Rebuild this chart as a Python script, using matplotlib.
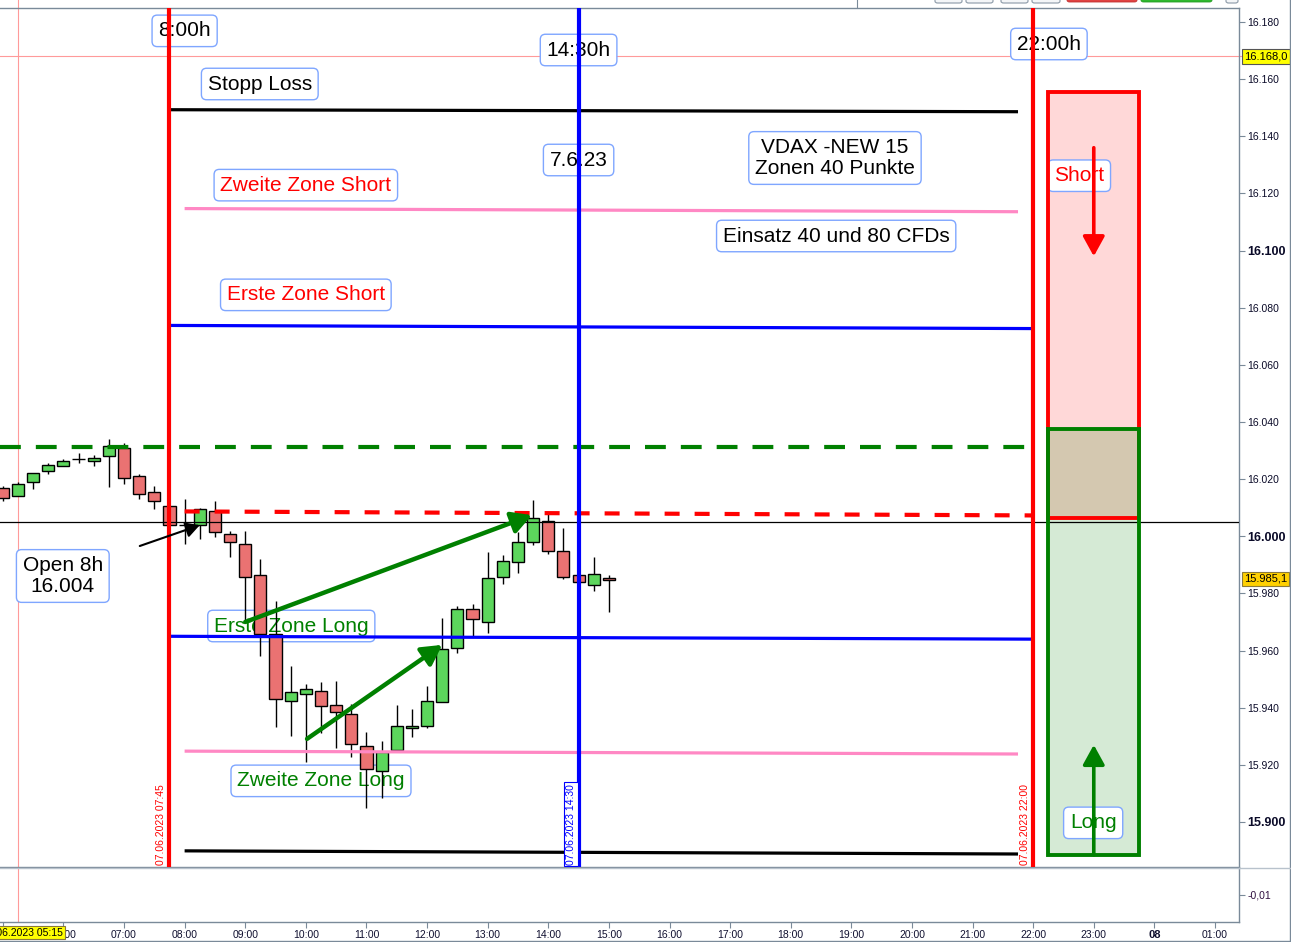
import matplotlib
matplotlib.use("Agg")
import matplotlib.pyplot as plt
from matplotlib.patches import Rectangle, FancyBboxPatch
from matplotlib.lines import Line2D
from matplotlib.transforms import blended_transform_factory

plt.rcParams['font.family'] = ['Liberation Sans', 'DejaVu Sans']

# ---------------- data (15-min candles, 07.06.2023) ----------------
candle_times = ["05:00", "05:15", "05:30", "05:45", "06:00", "06:15", "06:30", "06:45",
                "07:00", "07:15", "07:30", "07:45", "08:00", "08:15", "08:30", "08:45",
                "09:00", "09:15", "09:30", "09:45", "10:00", "10:15", "10:30", "10:45",
                "11:00", "11:15", "11:30", "11:45", "12:00", "12:15", "12:30", "12:45",
                "13:00", "13:15", "13:30", "13:45", "14:00", "14:15", "14:30", "14:45",
                "15:00"]
opens = [16016.8, 16014.0, 16018.9, 16022.7, 16024.5, 16026.9, 16026.2, 16028.0,
         16030.8, 16021.0, 16015.4, 16010.5, 16003.8, 16003.8, 16008.7, 16000.7,
         15997.2, 15986.4, 15965.7, 15942.3, 15944.8, 15945.8, 15940.9, 15937.8,
         15926.6, 15917.8, 15925.2, 15932.9, 15933.6, 15942.0, 15960.8, 15974.5,
         15969.9, 15985.7, 15990.9, 15997.9, 16005.2, 15994.8, 15986.4, 15982.9,
         15985.3]
highs = [16017.5, 16018.9, 16022.0, 16025.5, 16026.9, 16029.0, 16028.3, 16033.9,
         16032.5, 16021.7, 16017.5, 16010.5, 16012.9, 16009.8, 16012.2, 16001.7,
         16001.7, 15992.0, 15977.3, 15954.5, 15948.3, 15948.9, 15949.3, 15941.3,
         15931.5, 15928.3, 15940.9, 15939.5, 15947.6, 15971.3, 15975.5, 15976.2,
         15994.4, 15993.4, 16001.4, 16012.6, 16008.0, 16002.8, 15986.4, 15992.7,
         15986.4]
lows = [16012.5, 16014.0, 16016.4, 16021.7, 16024.5, 16025.5, 16024.5, 16017.1,
        16018.2, 16012.9, 16009.4, 16003.8, 15997.2, 15999.0, 15999.7, 15992.7,
        15969.9, 15958.0, 15933.2, 15930.1, 15921.0, 15931.1, 15925.9, 15922.7,
        15904.9, 15908.4, 15925.2, 15929.7, 15932.9, 15942.0, 15959.1, 15965.0,
        15966.1, 15983.2, 15987.1, 15996.9, 15993.7, 15985.0, 15983.9, 15980.8,
        15973.4]
closes = [16013.3, 16018.2, 16022.0, 16024.8, 16026.2, 16026.9, 16027.3, 16031.5,
          16020.3, 16014.7, 16012.2, 16003.8, 16003.8, 16009.4, 16001.4, 15997.9,
          15985.7, 15965.7, 15943.0, 15945.5, 15946.5, 15940.6, 15938.5, 15927.3,
          15918.5, 15924.5, 15933.6, 15933.6, 15942.3, 15960.5, 15974.5, 15971.0,
          15985.3, 15991.3, 15997.9, 16006.3, 15994.8, 15985.7, 15983.9, 15986.7,
          15984.6]

# drawn zone lines: start/end hour and start/end price
zone_names = ["Stopp Loss oben", "Zweite Zone Short", "Erste Zone Short",
              "Erste Zone Long", "Zweite Zone Long", "Stopp Loss unten"]
zone_t0 = [7.75, 8.0, 7.75, 7.75, 8.0, 8.0]
zone_t1 = [21.75, 21.75, 22.0, 22.0, 21.75, 21.75]
zone_p0 = [16149.3, 16114.7, 16073.8, 15965.0, 15924.8, 15889.9]
zone_p1 = [16148.6, 16113.6, 16072.7, 15964.0, 15923.8, 15888.8]
zone_colors = ["black", "#ff88c4", "#0000ff", "#0000ff", "#ff88c4", "black"]

green_dash_price = 16031.1
red_dash_t = [8.0, 22.0]
red_dash_p = [16008.7, 16007.3]
open_line_price = 16005.0
vline_times = [7.75, 14.5, 22.0]
vline_colors = ["#ff0000", "#0000ff", "#ff0000"]

short_box = (22.25, 23.75, 16006.5, 16155.5)
long_box = (22.25, 23.75, 15888.5, 16037.6)

cross_time = 5.25
cross_price = 16168.0
last_price = 15985.1

price_ticks = [15900, 15920, 15940, 15960, 15980, 16000, 16020, 16040,
               16060, 16080, 16100, 16120, 16140, 16160, 16180]
hour_ticks = list(range(5, 26))
hour_labels = ["", "06:00", "07:00", "08:00", "09:00", "10:00", "11:00",
               "12:00", "13:00", "14:00", "15:00", "16:00", "17:00", "18:00",
               "19:00", "20:00", "21:00", "22:00", "23:00", "08", "01:00"]


def hours(s):
    h, m = s.split(":")
    return int(h) + int(m) / 60.0


W, H = 1291, 942
fig = plt.figure(figsize=(W / 100, H / 100), dpi=100)
ax = fig.add_axes([0, 75 / H, 1239 / W, 859 / H])
axl = fig.add_axes([0, 20 / H, 1239 / W, 54 / H])
XMIN, XMAX = 4.954, 25.396
YMIN, YMAX = 15884.25, 16184.9
SPINE = "#7a8a99"

ax.set_xlim(XMIN, XMAX)
ax.set_ylim(YMIN, YMAX)
axl.set_xlim(XMIN, XMAX)
axl.set_ylim(-0.02, 0.0)

for a in (ax, axl):
    a.spines['left'].set_visible(False)
    for s in ('top', 'right', 'bottom'):
        a.spines[s].set_color(SPINE)
        a.spines[s].set_linewidth(1.0)
axl.spines['top'].set_color("#b8c2cc")

# ---------------- candles ----------------
t = [hours(s) for s in candle_times]
ax.vlines(t, lows, highs, color="black", lw=1.0, zorder=3)
bottoms = [min(o, c) for o, c in zip(opens, closes)]
heights = [abs(c - o) for o, c in zip(opens, closes)]
cols = ["#5cd65c" if c >= o else "#ea7272" for o, c in zip(opens, closes)]
ax.bar(t, heights, bottom=bottoms, width=0.2, color=cols, edgecolor="black",
       linewidth=1.0, zorder=4)

# ---------------- horizontal lines ----------------
for t0, t1, p0, p1, c in zip(zone_t0, zone_t1, zone_p0, zone_p1, zone_colors):
    ax.plot([t0, t1], [p0, p1], color=c, lw=2.3, solid_capstyle='butt', zorder=5)

ax.plot([XMIN, 22.0], [green_dash_price, green_dash_price], color="#008000", lw=3,
        linestyle=(0, (5.0, 3.6)), zorder=5)
ax.plot(red_dash_t, red_dash_p, color="#ff0000", lw=3, linestyle=(0, (3.6, 3.6)), zorder=5)
ax.axhline(open_line_price, color="black", lw=0.9, zorder=5)

for vt, vc in zip(vline_times, vline_colors):
    ax.axvline(vt, color=vc, lw=3, zorder=6)

# crosshair
ax.axhline(cross_price, xmin=0, xmax=1290 / 1239, color="#ff9a9a", lw=0.8,
           clip_on=False, zorder=1)
ax.axvline(cross_time, ymin=0, ymax=867 / 859, color="#ff9a9a", lw=0.8,
           clip_on=False, zorder=1)
axl.axvline(cross_time, color="#ff9a9a", lw=0.8, zorder=1)

# ---------------- zone boxes ----------------
sx0, sx1, sp0, sp1 = short_box
lx0, lx1, lp0, lp1 = long_box
ax.add_patch(Rectangle((sx0, sp0), sx1 - sx0, sp1 - sp0, fc="#ffd8d8", ec="none", zorder=2))
ax.add_patch(Rectangle((lx0, lp0), lx1 - lx0, lp1 - lp0, fc="#d5ead5", ec="none", zorder=2))
ax.add_patch(Rectangle((lx0, sp0), lx1 - lx0, lp1 - sp0, fc="#d4c8b0", ec="none", zorder=2))
ax.add_patch(Rectangle((sx0, sp0), sx1 - sx0, sp1 - sp0, fc="none", ec="#ff0000", lw=2.8, zorder=5))
ax.add_patch(Rectangle((lx0, lp0), lx1 - lx0, lp1 - lp0, fc="none", ec="#008000", lw=2.8, zorder=5))

# ---------------- arrows ----------------
arrow_from = [(23.0, 16136.0), (23.0, 15888.5), (9.0, 15970.0), (10.02, 15929.1), (7.26, 15996.6)]
arrow_to = [(23.0, 16098.0), (23.0, 15927.0), (13.73, 16007.4), (12.25, 15962.0), (8.25, 16003.9)]
arrow_cols = ["#ff0000", "#008000", "#008000", "#008000", "black"]
arrow_lw = [2.6, 2.6, 3.2, 3.2, 1.5]
arrow_ms = [20, 20, 20, 20, 14]
for (x0, y0), (x1, y1), c, lw, ms in zip(arrow_from, arrow_to, arrow_cols, arrow_lw, arrow_ms):
    ax.annotate("", xy=(x1, y1), xytext=(x0, y0),
                arrowprops=dict(arrowstyle="-|>,head_length=0.6,head_width=0.33",
                                color=c, lw=lw, mutation_scale=ms,
                                shrinkA=0, shrinkB=0), zorder=7)

# ---------------- labels ----------------
BOXEC = "#7fa6ff"
labels = [
    ("8:00h", 8.0, 16176.9, "black"),
    ("14:30h", 14.5, 16170.2, "black"),
    ("22:00h", 22.26, 16172.3, "black"),
    ("Stopp Loss", 9.24, 16158.3, "black"),
    ("7.6.23", 14.5, 16131.7, "black"),
    ("VDAX -NEW 15\nZonen 40 Punkte", 18.73, 16132.4, "black"),
    ("Einsatz 40 und 80 CFDs", 18.75, 16105.1, "black"),
    ("Zweite Zone Short", 10.0, 16122.9, "#ff0000"),
    ("Erste Zone Short", 10.0, 16084.5, "#ff0000"),
    ("Short", 22.76, 16126.2, "#ff0000"),
    ("Open 8h\n16.004", 5.99, 15986.1, "black"),
    ("Erste Zone Long", 9.76, 15968.6, "#008000"),
    ("Zweite Zone Long", 10.25, 15914.4, "#008000"),
    ("Long", 22.99, 15899.7, "#008000"),
]
for txt, x, y, c in labels:
    ax.text(x, y, txt, color=c, fontsize=15, ha="center", va="center",
            multialignment="center", linespacing=1.15, zorder=2.5,
            bbox=dict(boxstyle="round,pad=0.3,rounding_size=0.25", fc="white",
                      ec=BOXEC, lw=1.0))

date_labels = [("07.06.2023 07:45", 7.61, "#ff0000", None),
               ("07.06.2023 14:30", 14.375, "#0000ff", "#0000ff"),
               ("07.06.2023 22:00", 21.865, "#ff0000", None)]
for txt, x, c, ec in date_labels:
    kw = {}
    if ec:
        kw['bbox'] = dict(boxstyle="square,pad=0.15", fc="white", ec=ec, lw=0.8)
    ax.text(x, YMIN + 0.8, txt, rotation=90, ha="center", va="bottom", color=c,
            fontsize=7.5, zorder=6, **kw)

# ---------------- axes ticks ----------------
ax.yaxis.tick_right()
ax.set_yticks(price_ticks)
ax.set_yticklabels([f"{v / 1000:.3f}" for v in price_ticks])
ax.tick_params(axis='y', direction='out', length=4, color=SPINE, labelsize=7.5,
               pad=2, labelcolor="#0a0a28")
for v, lbl in zip(price_ticks, ax.get_yticklabels()):
    if v % 100 == 0:
        lbl.set_fontweight("bold")
        lbl.set_fontsize(9)
ax.set_xticks([])

axl.yaxis.tick_right()
axl.set_yticks([-0.01])
axl.set_yticklabels(["-0,01"])
axl.tick_params(axis='y', direction='out', length=4, color=SPINE, labelsize=7.5,
                pad=2, labelcolor="#301040")
axl.set_xticks(hour_ticks)
axl.set_xticklabels(hour_labels)
axl.tick_params(axis='x', direction='out', length=4, color=SPINE, labelsize=7.5,
                pad=2, labelcolor="#101030")
for lbl in axl.get_xticklabels():
    if lbl.get_text() == "08":
        lbl.set_fontweight("bold")
        lbl.set_fontsize(8)

# price tags on the right axis
trans = blended_transform_factory(ax.transAxes, ax.transData)
ax.text(1.004, cross_price, "16.168,0", transform=trans, ha="left", va="center",
        fontsize=8, color="black", zorder=8, clip_on=False,
        bbox=dict(boxstyle="square,pad=0.2", fc="#ffff00", ec="#555555", lw=0.8))
ax.text(1.004, last_price, "15.985,1", transform=trans, ha="left", va="center",
        fontsize=8, color="black", zorder=8, clip_on=False,
        bbox=dict(boxstyle="square,pad=0.2", fc="#ffd000", ec="#8a7a3a", lw=0.8))

# crosshair time tag
transl = blended_transform_factory(axl.transData, axl.transAxes)
axl.text(5.33, -0.2, "07.06.2023 05:15", transform=transl, ha="center", va="center",
         fontsize=7.5, color="black", zorder=8, clip_on=False,
         bbox=dict(boxstyle="square,pad=0.15", fc="#ffff00", ec="#8a7a3a", lw=0.8))

# ---------------- window decorations ----------------
def px_rect(x, y, w, h, **kw):
    fig.add_artist(FancyBboxPatch((x / W, 1 - (y + h) / H), w / W, h / H,
                                  boxstyle="round,pad=0,rounding_size=0.002",
                                  transform=fig.transFigure, **kw))

for x0, x1 in [(935, 962), (966, 993), (1001, 1028), (1032, 1060), (1226, 1238)]:
    px_rect(x0, -2, x1 - x0, 5, fc="#f4f6f8", ec="#8a98a6", lw=0.8)
px_rect(1067, -2, 70, 4, fc="#e04444", ec="#c03030", lw=0.6)
px_rect(1141, -2, 71, 4, fc="#2eb82e", ec="#229922", lw=0.6)
fig.add_artist(Line2D([857 / W, 857 / W], [1, 1 - 7 / H], transform=fig.transFigure,
                      color=SPINE, lw=0.8))
fig.add_artist(Line2D([1289.5 / W, 1289.5 / W], [0, 1], transform=fig.transFigure,
                      color=SPINE, lw=1.0))
fig.add_artist(Line2D([0, 1], [1.5 / H, 1.5 / H], transform=fig.transFigure,
                      color=SPINE, lw=1.0))
fig.add_artist(Line2D([1239 / W, 1291 / W], [74 / H, 74 / H], transform=fig.transFigure,
                      color="#b8c2cc", lw=1.0))

fig.savefig("out.png", dpi=100, facecolor="white")
